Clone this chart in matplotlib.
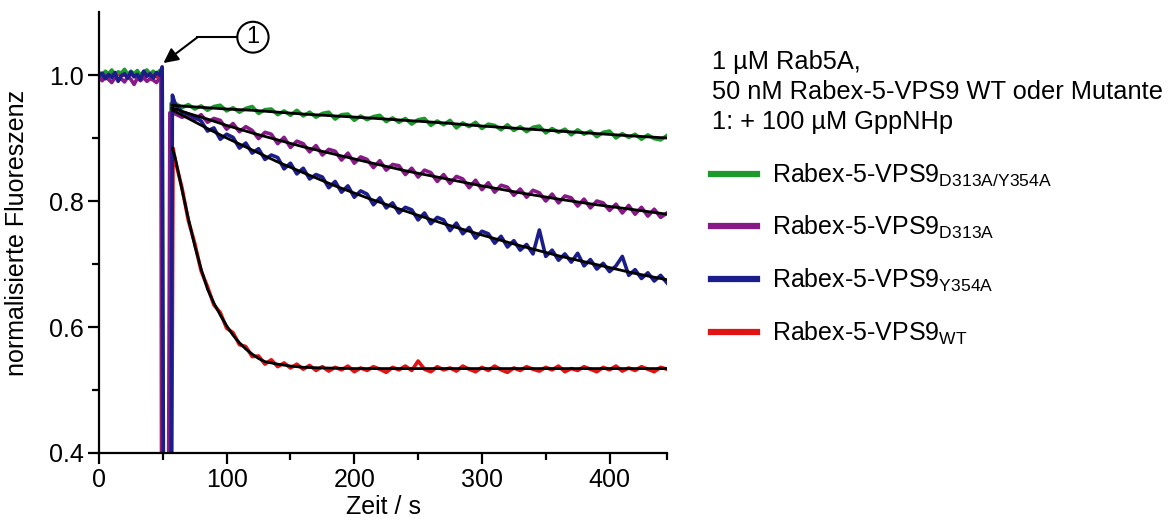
import numpy as np
import matplotlib.pyplot as plt
from matplotlib.patches import Ellipse

plt.rcParams['font.family'] = ['Liberation Sans', 'DejaVu Sans']
plt.rcParams['mathtext.default'] = 'regular'

# baseline before injection (s), every 2.5 s
t_pre = np.arange(0, 50, 2.5)
# traces after injection (s), every 5 s
t_post = np.arange(60, 450, 5)

green_pre = [1.004, 1.000, 1.006, 1.002, 1.008, 0.999, 1.005, 1.003, 1.009, 1.001,
             1.006, 1.002, 1.007, 1.000, 1.005, 1.008, 1.002, 1.006, 1.001, 1.007]
purple_pre = [0.995, 0.991, 0.997, 0.993, 0.988, 0.996, 0.992, 0.994, 0.989, 0.997,
              0.993, 0.985, 0.995, 0.991, 0.996, 0.990, 0.994, 0.992, 0.988, 0.995]
blue_pre = [0.998, 1.003, 0.994, 1.001, 0.996, 1.004, 0.990, 0.999, 1.002, 0.995,
            1.005, 0.997, 1.001, 0.993, 1.006, 0.998, 1.002, 0.995, 1.004, 1.000]
red_pre = [1.000, 0.997, 1.002, 0.998, 1.001, 0.996, 1.003, 0.999, 1.000, 0.997,
           1.002, 0.998, 1.001, 0.999, 0.996, 1.002, 0.998, 1.000, 0.997, 0.999]

# mixing gap: signal leaves the range and comes back
green_gap_t = [49.5, 50.0, 56.0, 56.5]
green_gap = [1.005, 0.35, 0.35, 0.955]
purple_gap_t = [49.0, 49.5, 54.5, 55.5]
purple_gap = [0.993, 0.35, 0.35, 0.940]
blue_gap_t = [49.5, 50.5, 56.5, 57.5]
blue_gap = [1.013, 0.35, 0.35, 0.968]
red_gap_t = [48.5, 49.0, 57.0, 58.0]
red_gap = [0.998, 0.35, 0.35, 0.884]

green_post = [0.955, 0.948, 0.953, 0.946, 0.951, 0.944, 0.950, 0.952, 0.943, 0.948,
              0.941, 0.947, 0.950, 0.939, 0.945, 0.946, 0.937, 0.943, 0.936, 0.944,
              0.935, 0.941, 0.933, 0.939, 0.941, 0.930, 0.937, 0.938, 0.928, 0.935,
              0.929, 0.934, 0.936, 0.926, 0.932, 0.925, 0.931, 0.922, 0.929, 0.931,
              0.920, 0.927, 0.921, 0.928, 0.916, 0.924, 0.918, 0.925, 0.915, 0.922,
              0.920, 0.913, 0.921, 0.912, 0.918, 0.910, 0.917, 0.919, 0.908, 0.915,
              0.909, 0.914, 0.905, 0.913, 0.906, 0.911, 0.902, 0.909, 0.911, 0.900,
              0.907, 0.901, 0.906, 0.898, 0.905, 0.899, 0.897, 0.904]
purple_post = [0.938, 0.933, 0.936, 0.929, 0.937, 0.925, 0.931, 0.928, 0.914, 0.923,
               0.910, 0.918, 0.912, 0.899, 0.909, 0.906, 0.891, 0.901, 0.885, 0.895,
               0.891, 0.878, 0.888, 0.873, 0.882, 0.879, 0.865, 0.876, 0.860, 0.870,
               0.866, 0.853, 0.864, 0.849, 0.858, 0.856, 0.842, 0.852, 0.838, 0.849,
               0.845, 0.831, 0.842, 0.828, 0.839, 0.835, 0.821, 0.833, 0.818, 0.829,
               0.814, 0.825, 0.822, 0.809, 0.819, 0.806, 0.817, 0.813, 0.800, 0.811,
               0.797, 0.808, 0.805, 0.792, 0.803, 0.789, 0.800, 0.797, 0.785, 0.795,
               0.781, 0.793, 0.779, 0.790, 0.776, 0.787, 0.774, 0.781]
blue_post = [0.952, 0.941, 0.938, 0.933, 0.927, 0.911, 0.916, 0.898, 0.906, 0.901,
             0.884, 0.892, 0.876, 0.883, 0.866, 0.873, 0.869, 0.851, 0.860, 0.843,
             0.852, 0.835, 0.842, 0.838, 0.821, 0.831, 0.814, 0.824, 0.806, 0.816,
             0.811, 0.794, 0.805, 0.789, 0.797, 0.781, 0.790, 0.786, 0.770, 0.781,
             0.764, 0.774, 0.770, 0.753, 0.765, 0.748, 0.758, 0.741, 0.752, 0.748,
             0.733, 0.744, 0.727, 0.737, 0.722, 0.731, 0.716, 0.754, 0.712, 0.722,
             0.706, 0.716, 0.703, 0.717, 0.697, 0.707, 0.692, 0.701, 0.688, 0.697,
             0.712, 0.682, 0.691, 0.677, 0.686, 0.673, 0.682, 0.670]
red_post = [0.862, 0.821, 0.769, 0.733, 0.689, 0.664, 0.635, 0.623, 0.598, 0.591,
            0.572, 0.569, 0.553, 0.554, 0.541, 0.548, 0.537, 0.543, 0.535, 0.541,
            0.533, 0.539, 0.531, 0.537, 0.530, 0.536, 0.532, 0.538, 0.529, 0.535,
            0.531, 0.537, 0.533, 0.528, 0.536, 0.532, 0.538, 0.531, 0.546, 0.533,
            0.529, 0.537, 0.532, 0.535, 0.530, 0.538, 0.533, 0.529, 0.536, 0.531,
            0.538, 0.532, 0.528, 0.535, 0.531, 0.537, 0.533, 0.530, 0.536, 0.532,
            0.538, 0.529, 0.534, 0.531, 0.537, 0.533, 0.529, 0.536, 0.532, 0.538,
            0.530, 0.535, 0.531, 0.537, 0.533, 0.529, 0.536, 0.533]

# fitted curves
t_fit = [57, 70, 85, 100, 120, 140, 160, 185, 210, 240, 270, 300, 330, 360, 390, 420, 445]
green_fit = [0.952, 0.950, 0.948, 0.946, 0.944, 0.941, 0.938, 0.935, 0.932, 0.928,
             0.924, 0.919, 0.915, 0.911, 0.907, 0.903, 0.900]
purple_fit = [0.948, 0.939, 0.930, 0.920, 0.908, 0.897, 0.886, 0.874, 0.862, 0.848,
              0.836, 0.824, 0.813, 0.803, 0.794, 0.786, 0.779]
blue_fit = [0.945, 0.931, 0.915, 0.900, 0.881, 0.862, 0.845, 0.824, 0.805, 0.784,
            0.764, 0.746, 0.729, 0.713, 0.699, 0.685, 0.675]
t_fit_red = [57.5, 60, 62.5, 65, 67.5, 70, 75, 80, 85, 90, 95, 100, 105, 110, 115,
             120, 125, 130, 140, 150, 160, 175, 200, 250, 300, 350, 400, 445]
red_fit = [0.884, 0.866, 0.842, 0.818, 0.795, 0.772, 0.729, 0.692, 0.660, 0.638,
           0.619, 0.602, 0.587, 0.575, 0.565, 0.557, 0.550, 0.545, 0.541, 0.538,
           0.536, 0.535, 0.534, 0.534, 0.534, 0.534, 0.534, 0.534]

labels = ['Rabex-5-VPS9$_{D313A/Y354A}$', 'Rabex-5-VPS9$_{D313A}$',
          'Rabex-5-VPS9$_{Y354A}$', 'Rabex-5-VPS9$_{WT}$']
c_green, c_purple, c_blue, c_red = '#1d9a2c', '#871a87', '#1a1d8a', '#e11414'

fig = plt.figure(figsize=(11.75, 5.22), dpi=100)
ax = fig.add_axes([99/1175, 69/522, 568/1175, 441/522])

def trace(pre, gap_t, gap, post):
    t = np.concatenate([t_pre, gap_t, t_post])
    y = np.concatenate([pre, gap, post])
    return t, y

series = [
    (red_pre, red_gap_t, red_gap, red_post, c_red),
    (green_pre, green_gap_t, green_gap, green_post, c_green),
    (purple_pre, purple_gap_t, purple_gap, purple_post, c_purple),
    (blue_pre, blue_gap_t, blue_gap, blue_post, c_blue),
]
for pre, gt, g, post, c in series:
    t, y = trace(pre, gt, g, post)
    ax.plot(t, y, color=c, lw=2.6)

for tf, yf in [(t_fit, green_fit), (t_fit, purple_fit), (t_fit, blue_fit), (t_fit_red, red_fit)]:
    ax.plot(tf, yf, color='black', lw=2.0, solid_capstyle='round')

ax.set_xlim(0, 445)
ax.set_ylim(0.4, 1.1)
for s in ['top', 'right']:
    ax.spines[s].set_visible(False)
for s in ['left', 'bottom']:
    ax.spines[s].set_linewidth(1.6)
ax.set_xticks([0, 100, 200, 300, 400])
ax.set_xticks([50, 150, 250, 350, 445], minor=True)
ax.set_yticks([0.4, 0.6, 0.8, 1.0])
ax.set_yticks([0.5, 0.7, 0.9], minor=True)
ax.yaxis.set_major_formatter(plt.FormatStrFormatter('%.1f'))
ax.tick_params(which='major', direction='out', length=8, width=1.6, labelsize=18, pad=3)
ax.tick_params(which='minor', direction='out', length=5, width=1.6)
ax.set_xlabel('Zeit / s', fontsize=18, labelpad=2)
ax.set_ylabel('normalisierte Fluoreszenz', fontsize=18, labelpad=14)

# injection marker
ax.add_patch(Ellipse((120.6, 1.060), 24.5, 0.049, fill=False, ec='black', lw=1.5, clip_on=False))
ax.text(120.6, 1.060, '1', ha='center', va='center', fontsize=17)
ax.plot([108.3, 76.8], [1.060, 1.060], color='black', lw=1.5, clip_on=False)
ax.annotate('', xy=(50.5, 1.019), xytext=(77.2, 1.060),
            arrowprops=dict(arrowstyle='-|>', color='black', lw=1.5,
                            mutation_scale=22, shrinkA=0, shrinkB=0))

# conditions
fig.text(712/1175, 1 - 69/522, '1 µM Rab5A,', fontsize=18.3, va='baseline')
fig.text(712/1175, 1 - 99/522, '50 nM Rabex-5-VPS9 WT oder Mutante', fontsize=18.3, va='baseline')
fig.text(712/1175, 1 - 129/522, '1: + 100 µM GppNHp', fontsize=18.3, va='baseline')

handles = [plt.Line2D([], [], color=c, lw=4.5) for c in (c_green, c_purple, c_blue, c_red)]
ax.legend(handles, labels, loc='upper left', bbox_to_anchor=(698/1175, 1 - 149/522),
          bbox_transform=fig.transFigure, frameon=False, fontsize=18, borderpad=0,
          handlelength=1.85, handletextpad=0.6, labelspacing=1.02)

fig.savefig('out.png', dpi=100, facecolor='white')
